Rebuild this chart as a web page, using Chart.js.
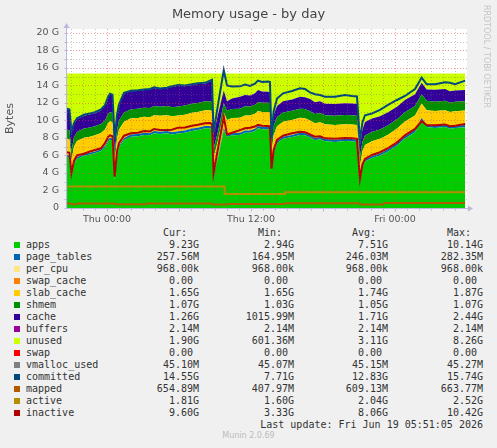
<!DOCTYPE html>
<html>
<head>
<meta charset="utf-8">
<script src="https://cdn.jsdelivr.net/npm/chart.js@4.4.1/dist/chart.umd.min.js"></script>
<style>
  html, body { margin: 0; padding: 0; background: #f0f0f0; }
  body { width: 497px; height: 448px; position: relative; overflow: hidden; font-family: "DejaVu Sans", sans-serif; }
  #chart { position: absolute; left: 0; top: 0; }
  .title { position: absolute; left: 0; top: 6px; width: 497px; text-align: center; font-size: 13px; line-height: 16px; color: #444; }
  .rrd { position: absolute; left: 482px; top: 5px; writing-mode: vertical-rl; font-size: 8px; color: #c4c4c4; }
  .mono { font-family: "DejaVu Sans Mono", monospace; font-size: 10px; color: #333; }
  .cell { position: absolute; height: 12px; line-height: 12px; white-space: pre; }
  .sw { position: absolute; width: 6px; height: 6px; left: 14px; }
  .munin { position: absolute; left: 0; width: 497px; text-align: center; top: 431px; font-size: 8px; color: #bbb; }
</style>
</head>
<body>
<canvas id="chart" width="497" height="226"></canvas>
<div class="title">Memory usage - by day</div>
<div class="rrd">RRDTOOL / TOBI OETIKER</div>
<div id="legend" class="mono"></div>
<div class="munin">Munin 2.0.69</div>
<script>
// time axis in hours relative to Thu 00:00
const hours = [-3.33, -3.13, -2.96, -2.75, -2.5, -1.92, -1.42, -1.0, -0.5, -0.17,
  0.08, 0.25, 0.46, 0.64, 0.83, 1.0, 1.42, 2.0, 2.58, 3.08,
  3.58, 3.92, 4.42, 5.0, 5.42, 5.92, 6.5, 7.08, 7.58, 8.17,
  8.58, 8.75, 8.88, 9.25, 9.73, 10.0, 10.42, 11.08, 11.5, 11.92,
  12.33, 12.58, 12.92, 13.42, 13.58, 13.71, 13.88, 14.17, 14.67, 15.42,
  16.08, 16.5, 16.92, 17.33, 17.75, 18.17, 19.0, 19.83, 20.42, 20.83,
  21.08, 21.29, 21.5, 22.08, 22.75, 23.42, 24.17, 24.83, 25.67, 26.22,
  26.64, 27.33, 28.17, 28.58, 29.0, 29.85];

// values in GB
const apps = [5.86, 5.8, 3.4, 5.0, 5.6, 5.98, 6.1, 6.25, 6.5, 6.9,
  7.6, 7.8, 7.7, 3.2, 5.8, 6.9, 7.77, 8.15, 8.2, 8.34,
  8.3, 8.53, 8.45, 8.53, 8.4, 8.5, 8.6, 8.8, 8.9, 9.1,
  9.1, 9.0, 3.77, 5.7, 8.9, 8.1, 8.3, 8.34, 8.6, 8.6,
  8.8, 9.1, 9.0, 9.0, 8.95, 4.34, 6.4, 7.4, 7.9, 8.1,
  8.35, 8.3, 8.05, 7.75, 7.85, 7.62, 7.55, 7.65, 7.62, 7.55,
  2.94, 4.6, 5.3, 5.7, 6.0, 6.45, 7.15, 7.95, 8.65, 10.0,
  9.25, 9.15, 9.25, 9.05, 9.15, 9.23];

const pageTables = [0.2, 0.2, 0.17, 0.18, 0.2, 0.2, 0.21, 0.21, 0.22, 0.22,
  0.23, 0.24, 0.24, 0.17, 0.2, 0.22, 0.24, 0.25, 0.25, 0.25,
  0.25, 0.26, 0.26, 0.26, 0.26, 0.26, 0.26, 0.27, 0.27, 0.27,
  0.27, 0.27, 0.17, 0.2, 0.25, 0.24, 0.25, 0.25, 0.26, 0.26,
  0.26, 0.27, 0.27, 0.27, 0.27, 0.17, 0.2, 0.23, 0.24, 0.25,
  0.25, 0.25, 0.25, 0.25, 0.25, 0.25, 0.25, 0.25, 0.25, 0.25,
  0.17, 0.2, 0.22, 0.23, 0.24, 0.25, 0.25, 0.26, 0.26, 0.27,
  0.27, 0.27, 0.27, 0.26, 0.26, 0.26];

const slabCache = [1.85, 1.85, 1.86, 1.86, 1.85, 1.85, 1.84, 1.84, 1.84, 1.85,
  1.86, 1.87, 1.87, 1.87, 1.86, 1.85, 1.85, 1.84, 1.84, 1.83,
  1.83, 1.82, 1.82, 1.82, 1.81, 1.81, 1.8, 1.8, 1.8, 1.79,
  1.79, 1.79, 1.8, 1.8, 1.78, 1.72, 1.72, 1.71, 1.71, 1.7,
  1.7, 1.7, 1.7, 1.7, 1.7, 1.72, 1.72, 1.71, 1.71, 1.7,
  1.7, 1.7, 1.69, 1.69, 1.69, 1.69, 1.68, 1.68, 1.68, 1.68,
  1.7, 1.7, 1.69, 1.69, 1.68, 1.68, 1.67, 1.67, 1.66, 1.66,
  1.66, 1.66, 1.65, 1.65, 1.65, 1.65];

const shmem = [1.04, 1.04, 1.04, 1.04, 1.04, 1.04, 1.04, 1.04, 1.04, 1.04,
  1.04, 1.04, 1.04, 1.03, 1.03, 1.04, 1.04, 1.04, 1.04, 1.04,
  1.04, 1.04, 1.04, 1.04, 1.04, 1.04, 1.04, 1.04, 1.04, 1.04,
  1.04, 1.04, 1.03, 1.03, 1.04, 1.05, 1.05, 1.05, 1.05, 1.05,
  1.05, 1.05, 1.05, 1.05, 1.05, 1.05, 1.05, 1.05, 1.05, 1.05,
  1.05, 1.05, 1.05, 1.05, 1.05, 1.05, 1.05, 1.05, 1.05, 1.05,
  1.06, 1.06, 1.06, 1.06, 1.06, 1.06, 1.06, 1.06, 1.07, 1.07,
  1.07, 1.07, 1.07, 1.07, 1.07, 1.07];

const cache = [2.29, 2.25, 2.15, 1.5, 1.45, 1.47, 1.5, 1.5, 1.55, 1.65,
  1.85, 2.05, 2.05, 1.55, 1.65, 1.75, 2.18, 2.07, 2.05, 2.01,
  2.1, 2.07, 2.0, 2.02, 2.3, 2.35, 2.2, 2.15, 2.15, 2.0,
  2.25, 2.44, 1.58, 1.95, 1.45, 1.1, 1.2, 1.35, 1.3, 1.25,
  1.3, 1.35, 1.3, 1.25, 1.25, 1.3, 1.25, 1.25, 1.3, 1.3,
  1.35, 1.35, 1.4, 1.35, 1.35, 1.3, 1.35, 1.35, 1.35, 1.35,
  1.3, 1.4, 1.55, 1.55, 1.5, 1.5, 1.45, 1.4, 1.35, 1.3,
  1.3, 1.35, 1.35, 1.3, 1.3, 1.26];

const committed = [11.35, 11.25, 8.75, 9.7, 10.25, 10.65, 10.8, 10.95, 11.25, 11.75,
  12.65, 13.05, 12.95, 7.75, 10.65, 11.85, 13.15, 13.4, 13.45, 13.55,
  13.6, 13.8, 13.65, 13.75, 13.9, 14.05, 14.0, 14.15, 14.25, 14.3,
  14.55, 14.65, 8.6, 11.8, 15.74, 14.0, 13.87, 13.9, 14.1, 13.95,
  14.2, 14.55, 14.4, 14.45, 14.4, 7.9, 11.0, 12.5, 13.1, 13.37,
  13.68, 13.6, 13.2, 13.0, 12.9, 12.72, 12.72, 12.9, 12.8, 12.75,
  7.71, 9.8, 10.6, 10.8, 11.2, 11.77, 12.34, 12.8, 13.6, 14.9,
  14.14, 14.14, 14.36, 14.3, 14.14, 14.55];

const inactive = [6.37, 6.3, 3.97, 5.4, 6.0, 6.2, 6.45, 6.63, 6.82, 7.4,
  8.1, 8.3, 8.2, 3.58, 6.4, 7.4, 8.26, 8.53, 8.6, 8.8,
  8.75, 9.03, 8.9, 8.9, 8.95, 9.18, 9.2, 9.4, 9.5, 9.68,
  9.7, 9.6, 3.97, 6.8, 10.42, 8.4, 8.6, 8.9, 9.1, 9.18,
  9.3, 9.5, 9.4, 9.37, 9.3, 4.5, 6.6, 7.77, 8.26, 8.53,
  8.7, 8.65, 8.4, 8.15, 8.2, 7.96, 7.9, 8.0, 7.96, 7.9,
  3.33, 5.0, 5.6, 6.06, 6.37, 6.85, 7.5, 8.3, 9.03, 9.94,
  9.45, 9.45, 9.55, 9.35, 9.4, 9.6];

const activeHours = [-3.33, 9.8, 9.8, 14.83, 14.83, 29.85];
const activeValues = [2.45, 2.45, 1.6, 1.6, 1.81, 1.81];

const mappedHours = [-3.33, -3.0, -2.9, -2.6, -2.5, 0.6, 0.7, 3.2, 3.3, 8.7,
  8.8, 9.9, 10.0, 14.8, 14.9, 21.0, 21.1, 23.0, 23.1, 29.85];
const mappedValues = [0.5, 0.5, 0.42, 0.42, 0.5, 0.5, 0.42, 0.42, 0.52, 0.52,
  0.41, 0.41, 0.46, 0.46, 0.55, 0.55, 0.41, 0.41, 0.56, 0.56];

// total RAM, unused is what is left on top of the stack
const MEM_TOTAL = 15.37;

const yTicks = [0, 2, 4, 6, 8, 10, 12, 14, 16, 18, 20];
const xTickHours = [0, 12, 24];
const xTickLabels = ['Thu 00:00', 'Thu 12:00', 'Fri 00:00'];

// legend table
const legendNames = ['apps', 'page_tables', 'per_cpu', 'swap_cache', 'slab_cache', 'shmem', 'cache', 'buffers',
  'unused', 'swap', 'vmalloc_used', 'committed', 'mapped', 'active', 'inactive'];
const legendColors = ['#00CC00', '#0066B3', '#FFE680', '#FF8000', '#FFCC00', '#008F00', '#330099', '#990099',
  '#CCFF00', '#FF0000', '#808080', '#00487D', '#B35A00', '#B38F00', '#B30000'];
const curText = ['9.23G', '257.56M', '968.00k', '0.00 ', '1.65G', '1.07G', '1.26G', '2.14M',
  '1.90G', '0.00 ', '45.10M', '14.55G', '654.89M', '1.81G', '9.60G'];
const minText = ['2.94G', '164.95M', '968.00k', '0.00 ', '1.65G', '1.03G', '1015.99M', '2.14M',
  '601.36M', '0.00 ', '45.07M', '7.71G', '407.97M', '1.60G', '3.33G'];
const avgText = ['7.51G', '246.03M', '968.00k', '0.00 ', '1.74G', '1.05G', '1.71G', '2.14M',
  '3.11G', '0.00 ', '45.15M', '12.83G', '609.13M', '2.04G', '8.06G'];
const maxText = ['10.14G', '282.35M', '968.00k', '0.00 ', '1.87G', '1.07G', '2.44G', '2.14M',
  '8.26G', '0.00 ', '45.27M', '15.74G', '663.77M', '2.52G', '10.42G'];

const unused = hours.map((h, i) =>
  +(MEM_TOTAL - apps[i] - pageTables[i] - slabCache[i] - shmem[i] - cache[i]).toFixed(2));

const pts = (xs, ys) => ys.map((v, i) => ({ x: xs[i], y: v }));

function area(label, values, color, fill) {
  return {
    label: label, data: pts(hours, values), backgroundColor: color, borderColor: color,
    borderWidth: 0, pointRadius: 0, fill: fill, stack: 'mem', order: 2
  };
}
function line(label, xs, ys, color) {
  return {
    label: label, data: pts(xs, ys), borderColor: color, borderWidth: 2,
    pointRadius: 0, fill: false, stack: label, order: 1
  };
}

const MINOR = 'rgba(110,110,110,0.4)';
const MAJOR = 'rgba(230,60,60,0.5)';
const AXIS = '#b8b8dc';

// rrdtool draws its dotted grid over the graph, so draw it after the datasets
const rrdGrid = {
  id: 'rrdGrid',
  beforeDraw(chart) {
    const { ctx, chartArea: a } = chart;
    ctx.save();
    ctx.fillStyle = '#ffffff';
    ctx.fillRect(a.left, a.top, a.right - a.left, a.bottom - a.top);
    ctx.restore();
  },
  afterDatasetsDraw(chart) {
    const { ctx, chartArea: a, scales: { x, y } } = chart;
    ctx.save();
    ctx.lineWidth = 1;
    ctx.setLineDash([1, 2]);
    for (let g = 1; g <= 20; g++) {
      const py = Math.round(y.getPixelForValue(g)) + 0.5;
      ctx.strokeStyle = g % 2 === 0 ? MAJOR : MINOR;
      ctx.beginPath(); ctx.moveTo(a.left, py); ctx.lineTo(a.right, py); ctx.stroke();
    }
    for (let h = -3; h <= 29; h++) {
      const px = Math.round(x.getPixelForValue(h)) + 0.5;
      ctx.strokeStyle = h % 6 === 0 ? MAJOR : MINOR;
      ctx.beginPath(); ctx.moveTo(px, a.top); ctx.lineTo(px, a.bottom); ctx.stroke();
    }
    ctx.setLineDash([]);
    // axes with arrows and small ticks
    ctx.strokeStyle = AXIS;
    ctx.fillStyle = AXIS;
    const x0 = Math.round(a.left) - 0.5, y0 = Math.round(a.bottom) + 0.5;
    ctx.beginPath(); ctx.moveTo(x0, y0); ctx.lineTo(x0, a.top - 2); ctx.stroke();
    ctx.beginPath(); ctx.moveTo(x0 - 3, a.top - 1); ctx.lineTo(x0 + 3, a.top - 1); ctx.lineTo(x0, a.top - 6); ctx.closePath(); ctx.fill();
    ctx.beginPath(); ctx.moveTo(x0, y0); ctx.lineTo(a.right + 2, y0); ctx.stroke();
    ctx.beginPath(); ctx.moveTo(a.right + 1, y0 - 3); ctx.lineTo(a.right + 1, y0 + 3); ctx.lineTo(a.right + 6, y0); ctx.closePath(); ctx.fill();
    for (let g = 0; g <= 20; g++) {
      const py = Math.round(y.getPixelForValue(g)) + 0.5;
      ctx.beginPath(); ctx.moveTo(x0 - 2, py); ctx.lineTo(x0, py); ctx.stroke();
    }
    for (let h = -3; h <= 29; h++) {
      const px = Math.round(x.getPixelForValue(h)) + 0.5;
      ctx.beginPath(); ctx.moveTo(px, y0); ctx.lineTo(px, y0 + (h % 6 === 0 ? 3 : 2)); ctx.stroke();
    }
    ctx.restore();
  }
};

new Chart(document.getElementById('chart'), {
  type: 'line',
  data: {
    datasets: [
      area('apps', apps, '#00CC00', 'origin'),
      area('page_tables', pageTables, '#0066B3', '-1'),
      area('slab_cache', slabCache, '#FFCC00', '-1'),
      area('shmem', shmem, '#008F00', '-1'),
      area('cache', cache, '#330099', '-1'),
      area('unused', unused, '#CCFF00', '-1'),
      line('committed', hours, committed, '#00487D'),
      line('mapped', mappedHours, mappedValues, '#B35A00'),
      line('active', activeHours, activeValues, '#B38F00'),
      line('inactive', hours, inactive, '#B30000')
    ]
  },
  options: {
    responsive: false,
    animation: false,
    layout: { padding: { top: 29, right: 30, left: 0, bottom: 0 } },
    plugins: { legend: { display: false }, tooltip: { enabled: false } },
    elements: { line: { tension: 0 } },
    scales: {
      x: {
        type: 'linear', min: -10 / 3, max: 30,
        grid: { display: false, drawTicks: false }, border: { display: false },
        afterBuildTicks: s => { s.ticks = xTickHours.map(v => ({ value: v })); },
        afterFit: s => { s.height = 18; },
        ticks: {
          autoSkip: false, maxRotation: 0, padding: 6, color: '#555',
          font: { family: 'DejaVu Sans', size: 9.5 },
          callback: v => xTickLabels[xTickHours.indexOf(v)]
        }
      },
      y: {
        stacked: true, min: 0, max: 20.45,
        grid: { display: false, drawTicks: false }, border: { display: false },
        afterBuildTicks: s => { s.ticks = yTicks.map(v => ({ value: v })); },
        afterFit: s => { s.width = 67; },
        ticks: {
          padding: 8, color: '#555',
          font: { family: 'DejaVu Sans', size: 9.5 },
          callback: v => (v === 0 ? '0' : v + ' G')
        },
        title: { display: true, text: 'Bytes', color: '#555', font: { family: 'DejaVu Sans', size: 11 } }
      }
    }
  },
  plugins: [rrdGrid]
});

// legend table below the graph
const legend = document.getElementById('legend');
function cell(text, top, rightEdge) {
  const d = document.createElement('div');
  d.className = 'cell';
  d.style.top = top + 'px';
  d.style.left = (rightEdge - 300) + 'px';
  d.style.width = '300px';
  d.style.textAlign = 'right';
  d.textContent = text;
  legend.appendChild(d);
}
const colRight = [199, 294, 388, 483];
['Cur:', 'Min:', 'Avg:', 'Max:'].forEach((t, i) => cell(t, 227, colRight[i] - 12));
legendNames.forEach((name, i) => {
  const cy = 245 + i * 12;
  const sw = document.createElement('div');
  sw.className = 'sw';
  sw.style.top = (cy - 3) + 'px';
  sw.style.background = legendColors[i];
  legend.appendChild(sw);
  const lab = document.createElement('div');
  lab.className = 'cell';
  lab.style.left = '26px';
  lab.style.top = (cy - 6) + 'px';
  lab.textContent = name;
  legend.appendChild(lab);
  [curText, minText, avgText, maxText].forEach((col, j) => cell(col[i], cy - 6, colRight[j]));
});
cell('Last update: Fri Jun 19 05:51:05 2026', 419, 483);
</script>
</body>
</html>
